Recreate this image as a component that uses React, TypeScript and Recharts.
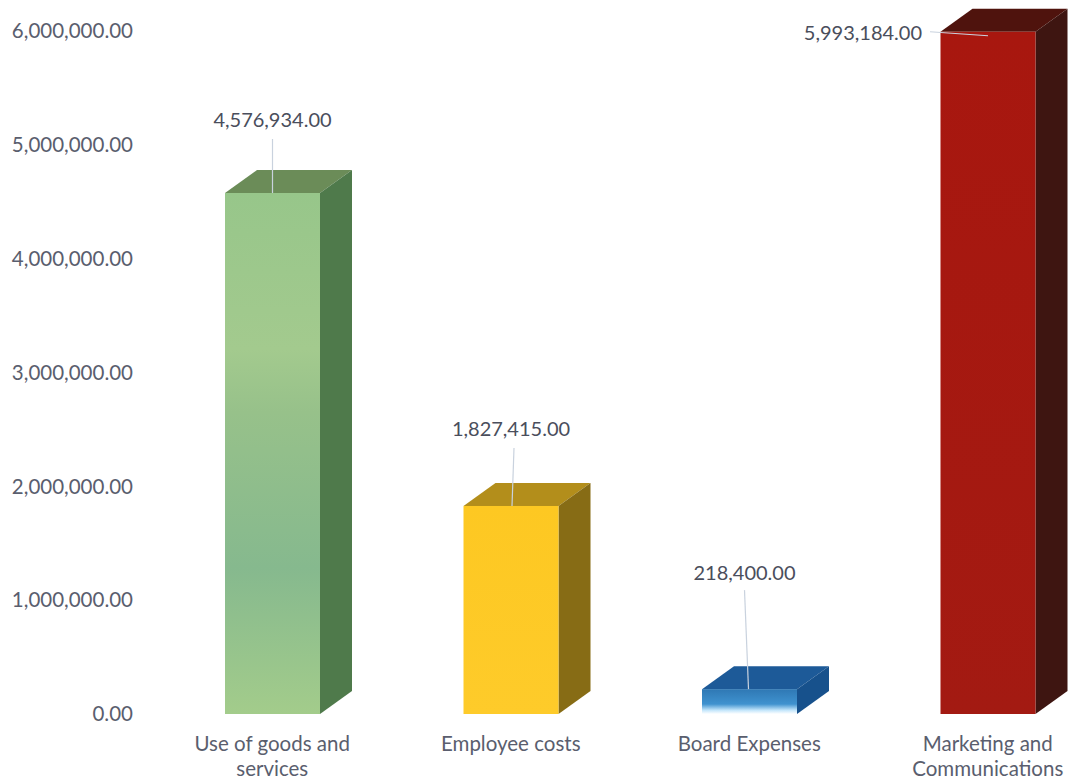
import { BarChart, Bar, XAxis, YAxis, LabelList, Text } from "recharts";

const categories = ["Use of goods and services", "Employee costs", "Board Expenses", "Marketing and Communications"];
const amounts = [4576934, 1827415, 218400, 5993184];
const yTicks = [0, 1000000, 2000000, 3000000, 4000000, 5000000, 6000000];

const topColors = ["#6b8c58", "#b38e1b", "#1d5a98", "#4f130d"];
const sideColors = ["#4f7a4b", "#876c15", "#17518c", "#3e1511"];

const chartData = categories.map((name, i) => ({ name, amount: amounts[i] }));

const FONT = "Lato, sans-serif";
const TEXT_COLOR = "#5a5e6e";
const LEADER_COLOR = "#c9d2de";

// Fake 3D extrusion of each column
const DEPTH_X = 32;
const DEPTH_Y = 23;

// Where each value label and its leader line sit, relative to the column's top centre
const leaders = [
  { textX: 0, textY: -74, anchor: "middle", fromX: 0, fromY: -54, toX: 0, toY: 0 },
  { textX: 0, textY: -78, anchor: "middle", fromX: 3, fromY: -58, toX: 1, toY: 0 },
  { textX: -5, textY: -117, anchor: "middle", fromX: -5, fromY: -99, toX: -1, toY: 0 },
  { textX: -66, textY: 0, anchor: "end", fromX: -58, fromY: 0, toX: 0, toY: 4 },
];

const formatAmount = (v: number) =>
  v.toLocaleString("en-US", { minimumFractionDigits: 2, maximumFractionDigits: 2 });

function Column3D({ x, y, width, height, index }: any) {
  const right = x + width;
  const bottom = y + height;
  return (
    <g>
      <polygon
        points={`${x},${y} ${x + DEPTH_X},${y - DEPTH_Y} ${right + DEPTH_X},${y - DEPTH_Y} ${right},${y}`}
        fill={topColors[index]}
      />
      <polygon
        points={`${right},${y} ${right + DEPTH_X},${y - DEPTH_Y} ${right + DEPTH_X},${bottom - DEPTH_Y} ${right},${bottom}`}
        fill={sideColors[index]}
      />
      <rect x={x} y={y} width={width} height={height} fill={`url(#front-${index})`} />
    </g>
  );
}

function ValueLabel({ x, y, width, value, index }: any) {
  const cx = x + width / 2;
  const l = leaders[index];
  return (
    <g>
      <line
        x1={cx + l.fromX}
        y1={y + l.fromY}
        x2={cx + l.toX}
        y2={y + l.toY}
        stroke={LEADER_COLOR}
        strokeWidth={1.2}
      />
      <text
        x={cx + l.textX}
        y={y + l.textY}
        textAnchor={l.anchor}
        dominantBaseline="central"
        fontFamily={FONT}
        fontSize={20}
        fill="#4a4e5c"
      >
        {formatAmount(value)}
      </text>
    </g>
  );
}

function CategoryTick({ x, y, payload }: any) {
  return (
    <Text
      x={x}
      y={y}
      width={165}
      textAnchor="middle"
      verticalAnchor="start"
      lineHeight={25}
      style={{ fontFamily: FONT, fontSize: 20.5 }}
      fill={TEXT_COLOR}
    >
      {payload.value}
    </Text>
  );
}

export default function App() {
  return (
    <div style={{ position: "absolute", left: 0, top: 0, width: 1072, height: 780, overflow: "hidden", background: "#fff" }}>
      <BarChart
        width={1110}
        height={780}
        data={chartData}
        margin={{ top: 31, right: 3, bottom: 0, left: 0 }}
      >
        <defs>
          <linearGradient id="front-0" x1="0" y1="0" x2="0" y2="1">
            <stop offset="0%" stopColor="#97c68a" />
            <stop offset="30%" stopColor="#a3ca8e" />
            <stop offset="42%" stopColor="#97c18a" />
            <stop offset="72%" stopColor="#86b98e" />
            <stop offset="100%" stopColor="#a3cc8b" />
          </linearGradient>
          <linearGradient id="front-1" x1="0" y1="0" x2="0" y2="1">
            <stop offset="0%" stopColor="#fdc822" />
            <stop offset="100%" stopColor="#fecb2a" />
          </linearGradient>
          <linearGradient id="front-2" x1="0" y1="0" x2="0" y2="1">
            <stop offset="0%" stopColor="#2f78b4" />
            <stop offset="60%" stopColor="#3f92cf" />
            <stop offset="85%" stopColor="#c4e6fb" />
            <stop offset="100%" stopColor="#ffffff" />
          </linearGradient>
          <linearGradient id="front-3" x1="0" y1="0" x2="0" y2="1">
            <stop offset="0%" stopColor="#a8170f" />
            <stop offset="100%" stopColor="#a31a12" />
          </linearGradient>
        </defs>
        <XAxis
          dataKey="name"
          height={66}
          axisLine={false}
          tickLine={false}
          tickMargin={16}
          interval={0}
          tick={<CategoryTick />}
        />
        <YAxis
          width={153}
          domain={[0, 6000000]}
          ticks={yTicks}
          axisLine={false}
          tickLine={false}
          tickSize={0}
          tickMargin={20}
          tickFormatter={formatAmount}
          tick={{ fontFamily: FONT, fontSize: 20.5, fill: TEXT_COLOR }}
        />
        <Bar dataKey="amount" barSize={95} shape={<Column3D />} isAnimationActive={false}>
          <LabelList dataKey="amount" content={<ValueLabel />} />
        </Bar>
      </BarChart>
    </div>
  );
}
